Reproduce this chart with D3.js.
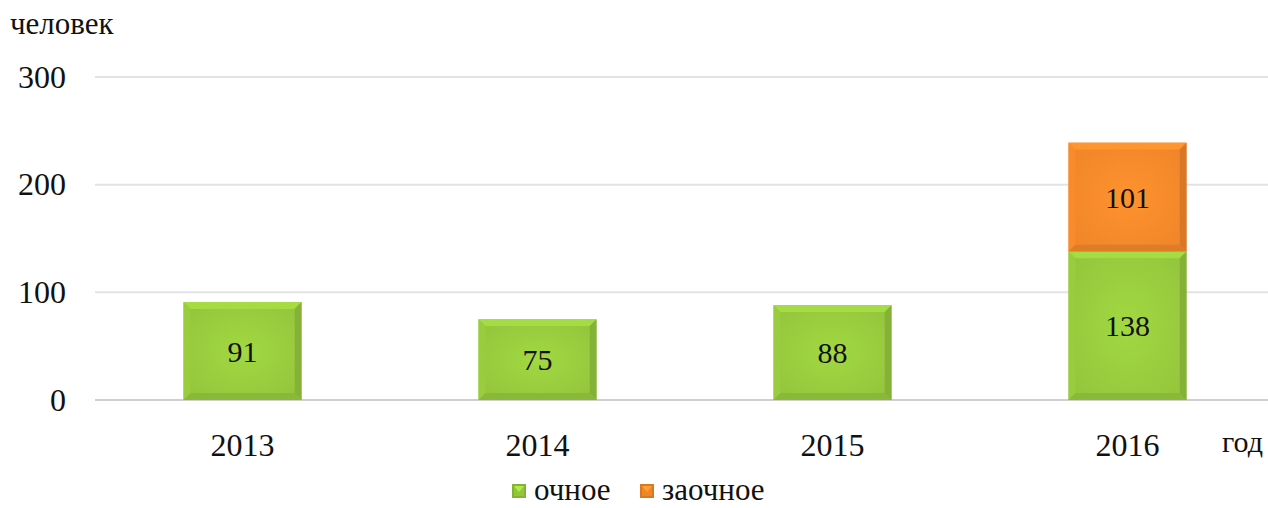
<!DOCTYPE html>
<html><head><meta charset="utf-8">
<script src="https://cdn.jsdelivr.net/npm/d3@7"></script>
<style>body{margin:0;background:#fff}svg{display:block}svg text{font-family:"Liberation Serif","Times New Roman",Times,serif !important;fill:#111}</style>
</head><body><svg id="c" width="1268" height="508"></svg>
<script>
const years = ["2013","2014","2015","2016"];
const fullTime = [91,75,88,138];
const partTime = [0,0,0,101];
const yTicks = [0,100,200,300];
const seriesNames = ["очное","заочное"];
const colors = ["#94c63c","#f0862a"];

const FONT = "Liberation Serif";
const svg = d3.select("#c");
const defs = svg.append("defs");
colors.forEach((c,i)=>{
  const rg = defs.append("radialGradient").attr("id","g"+i).attr("cx","50%").attr("cy","50%").attr("r","70%");
  rg.append("stop").attr("offset","0%").attr("stop-color",d3.color(c).brighter(0.25).formatHex());
  rg.append("stop").attr("offset","100%").attr("stop-color",c);
});
const x = d3.scaleBand().domain(years).range([95,1275]).paddingInner(0.6).paddingOuter(0.3);
const y = d3.scaleLinear().domain([0,300]).range([400,77]);

svg.append("g").selectAll("line").data(yTicks).join("line")
  .attr("x1",95).attr("x2",1268).attr("y1",d=>y(d)).attr("y2",d=>y(d))
  .attr("stroke",d=>d===0?"#cfcfcf":"#e3e3e3").attr("stroke-width",2);

const yAxis = d3.axisLeft(y).tickValues(yTicks).tickSize(0).tickPadding(0);
const ga = svg.append("g").attr("transform","translate(66,0)").call(yAxis).attr("font-family",FONT);
ga.select(".domain").remove();
ga.selectAll("text").attr("font-size",32).attr("fill","#111");

const xAxis = d3.axisBottom(x).tickSize(0).tickPadding(0);
const gx = svg.append("g").attr("transform","translate(0,433)").call(xAxis).attr("font-family",FONT);
gx.select(".domain").remove();
gx.selectAll("text").attr("font-size",32).attr("fill","#111");

svg.append("text").attr("x",10).attr("y",34).attr("font-size",31).attr("font-family",FONT).text("человек");
svg.append("text").attr("x",1222).attr("y",452).attr("font-size",30).attr("font-family",FONT).text("год");

const rows = years.map((yr,i)=>({year:yr, v0:fullTime[i], v1:partTime[i]}));
const stack = d3.stack().keys(["v0","v1"])(rows);

function shade(c,k){return d3.color(c)[k>0?"brighter":"darker"](Math.abs(k)).formatHex();}

stack.forEach((layer,si)=>{
  const g = svg.append("g");
  layer.forEach(d=>{
    if(d[1]-d[0]<=0) return;
    const x0=x(d.data.year), w=x.bandwidth(), y0=y(d[1]), h=y(d[0])-y(d[1]);
    const b=7, c=colors[si];
    const gg=g.append("g");
    gg.append("rect").attr("x",x0).attr("y",y0).attr("width",w).attr("height",h).attr("fill",c);
    gg.append("polygon").attr("points",[[x0,y0],[x0+w,y0],[x0+w-b,y0+b],[x0+b,y0+b]].join(" ")).attr("fill",shade(c,0.3));
    gg.append("polygon").attr("points",[[x0,y0],[x0+b,y0+b],[x0+b,y0+h-b],[x0,y0+h]].join(" ")).attr("fill",shade(c,0.1));
    gg.append("polygon").attr("points",[[x0+w,y0],[x0+w,y0+h],[x0+w-b,y0+h-b],[x0+w-b,y0+b]].join(" ")).attr("fill",shade(c,-0.3));
    gg.append("polygon").attr("points",[[x0,y0+h],[x0+w,y0+h],[x0+w-b,y0+h-b],[x0+b,y0+h-b]].join(" ")).attr("fill",shade(c,-0.2));
    gg.append("rect").attr("x",x0+b).attr("y",y0+b).attr("width",w-2*b).attr("height",h-2*b).attr("fill","url(#g"+si+")");
    gg.append("text").attr("x",x0+w/2).attr("y",(y0+y0+h)/2).attr("dy","0.35em")
      .attr("text-anchor","middle").attr("font-size",30).attr("font-family",FONT).text(d[1]-d[0]);
  });
});

const leg = svg.append("g");
const legX = [512,640];
seriesNames.forEach((n,i)=>{
  const c=colors[i];
  leg.append("rect").attr("x",legX[i]).attr("y",484).attr("width",14).attr("height",14).attr("fill",shade(c,-0.3));
  leg.append("rect").attr("x",legX[i]+2).attr("y",486).attr("width",10).attr("height",10).attr("fill",c);
  leg.append("polygon").attr("points",[[legX[i]+2,486],[legX[i]+12,486],[legX[i]+7,492]].join(" ")).attr("fill",shade(c,0.5));
  leg.append("text").attr("x",legX[i]+22).attr("y",500).attr("font-size",31).attr("font-family",FONT).text(n);
});
</script></body></html>
